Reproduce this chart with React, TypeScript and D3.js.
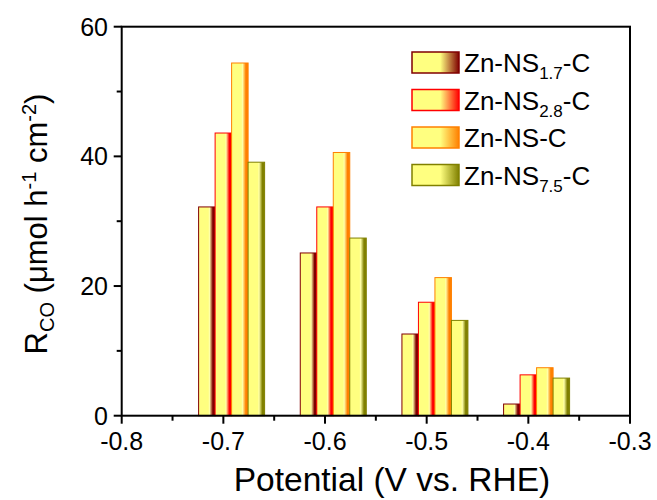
import React from "react";
import * as d3 from "d3";

const potentials = [-0.7, -0.6, -0.5, -0.4];
const seriesNames = ["1.7", "2.8", "", "7.5"];
const seriesColors = ["#800000", "#FF0000", "#FF8000", "#808000"];
const s17 = [32.2, 25.1, 12.6, 1.8];
const s28 = [43.6, 32.2, 17.5, 6.3];
const sNS = [54.4, 40.6, 21.3, 7.4];
const s75 = [39.1, 27.4, 14.7, 5.8];
const seriesValues = [s17, s28, sNS, s75];
const xTicks = [-0.8, -0.7, -0.6, -0.5, -0.4, -0.3];
const yTicks = [0, 20, 40, 60];

const W = 657;
const H = 500;
const FONT = "Arial, 'Liberation Sans', sans-serif";

export default function App() {
  const x = d3.scaleLinear().domain([-0.8, -0.3]).range([121.7, 630]);
  const y = d3.scaleLinear().domain([0, 60]).range([415.7, 26.7]);
  const bw = 0.01623;
  const xMinor = d3.range(-0.75, -0.3, 0.1);
  const yMinor = [10, 30, 50];
  const [x0, x1] = x.range();
  const [y0, y1] = y.range();

  return (
    <svg width={W} height={H} style={{ position: "absolute", left: 0, top: 0, background: "#fff" }}>
      <defs>
        {seriesColors.map((c, i) => (
          <linearGradient key={i} id={`g${i}`} x1="0" x2="1" y1="0" y2="0">
            <stop offset="0" stopColor="#FFFF80" />
            <stop offset="0.58" stopColor="#FFFF80" />
            <stop offset="0.66" stopColor="#FFFFA8" />
            <stop offset="0.86" stopColor={c} />
            <stop offset="1" stopColor={c} />
          </linearGradient>
        ))}
        {seriesColors.map((c, i) => (
          <linearGradient key={"l" + i} id={`lg${i}`} x1="0" x2="1" y1="0" y2="0">
            <stop offset="0" stopColor="#FFFF80" />
            <stop offset="0.6" stopColor="#FFFF80" />
            <stop offset="1" stopColor={c} />
          </linearGradient>
        ))}
      </defs>

      {seriesValues.map((vals, si) =>
        vals.map((v, pi) => {
          const cx = potentials[pi] + (si - 1) * bw;
          const left = x(cx - bw / 2);
          const right = x(cx + bw / 2);
          return (
            <rect
              key={`${si}-${pi}`}
              x={left}
              y={y(v)}
              width={right - left}
              height={y(0) - y(v)}
              fill={`url(#g${si})`}
              stroke={seriesColors[si]}
              strokeWidth={1}
            />
          );
        })
      )}

      {/* frame */}
      <rect x={x0} y={y1} width={x1 - x0} height={y0 - y1} fill="none" stroke="#000" strokeWidth={2} />

      {/* x ticks */}
      {xTicks.map((t) => (
        <g key={t}>
          <line x1={x(t)} x2={x(t)} y1={y0} y2={y0 + 8} stroke="#000" strokeWidth={2} />
          <text x={x(t)} y={450} textAnchor="middle" fontFamily={FONT} fontSize={25}>
            {t.toFixed(1)}
          </text>
        </g>
      ))}
      {xMinor.map((t) => (
        <line key={t} x1={x(t)} x2={x(t)} y1={y0} y2={y0 + 5} stroke="#000" strokeWidth={2} />
      ))}

      {/* y ticks */}
      {yTicks.map((t) => (
        <g key={t}>
          <line x1={x0 - 8} x2={x0} y1={y(t)} y2={y(t)} stroke="#000" strokeWidth={2} />
          <text x={108} y={y(t) + 9} textAnchor="end" fontFamily={FONT} fontSize={25}>
            {t}
          </text>
        </g>
      ))}
      {yMinor.map((t) => (
        <line key={t} x1={x0 - 5} x2={x0} y1={y(t)} y2={y(t)} stroke="#000" strokeWidth={2} />
      ))}

      {/* axis titles */}
      <text x={392} y={491} textAnchor="middle" fontFamily={FONT} fontSize={33.5}>
        Potential (V vs. RHE)
      </text>
      <text transform="translate(47,224) rotate(-90)" textAnchor="middle" fontFamily={FONT} fontSize={31}>
        R<tspan fontSize={20} dy={7}>CO</tspan>
        <tspan dy={-7}> (μmol h</tspan>
        <tspan fontSize={20} dy={-11}>-1</tspan>
        <tspan dy={11}> cm</tspan>
        <tspan fontSize={20} dy={-11}>-2</tspan>
        <tspan dy={11}>)</tspan>
      </text>

      {/* legend */}
      {seriesNames.map((n, i) => {
        const top = 52 + i * 37.5;
        return (
          <g key={i}>
            <rect x={412} y={top} width={47} height={21} fill={`url(#lg${i})`} stroke={seriesColors[i]} strokeWidth={1.5} />
            <text x={464} y={top + 20} fontFamily={FONT} fontSize={26}>
              Zn-NS
              {n ? (
                <>
                  <tspan fontSize={17} dy={7}>{n}</tspan>
                  <tspan dy={-7}>-C</tspan>
                </>
              ) : (
                "-C"
              )}
            </text>
          </g>
        );
      })}
    </svg>
  );
}
